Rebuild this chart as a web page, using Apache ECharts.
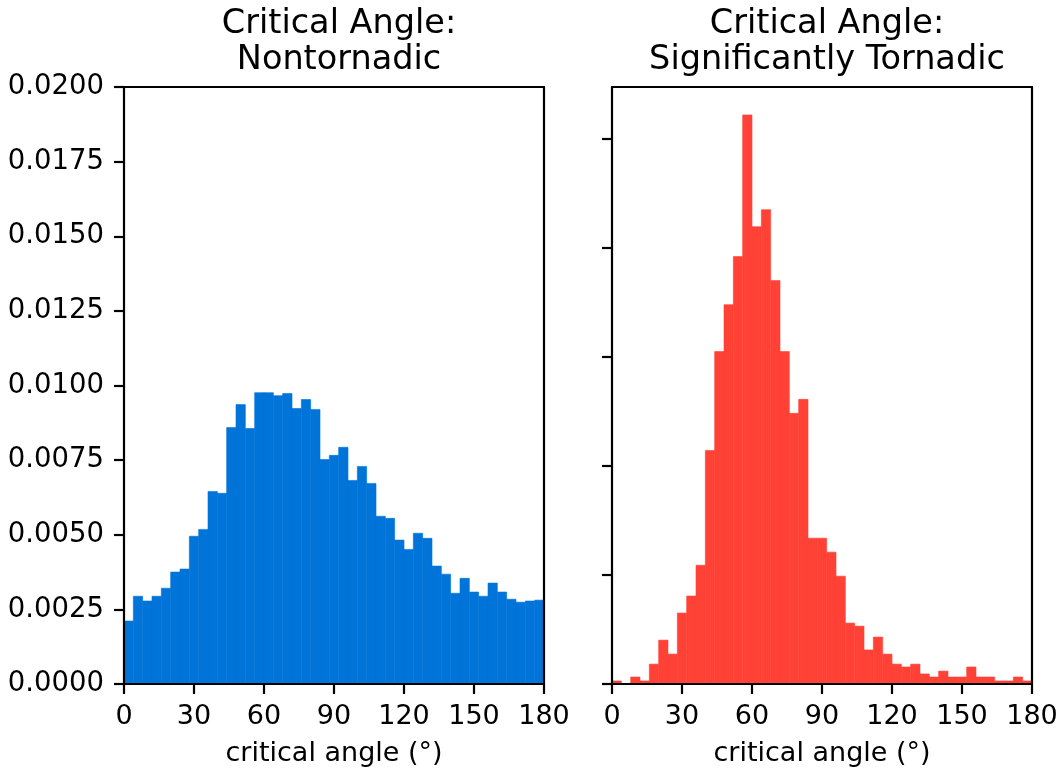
<!DOCTYPE html>
<html>
<head>
<meta charset="utf-8">
<script src="https://cdn.jsdelivr.net/npm/echarts@6/dist/echarts.min.js"></script>
<style>
  html, body { margin: 0; padding: 0; background: #fff; }
  #chart { width: 1061px; height: 772px; }
</style>
</head>
<body>
<div id="chart"></div>
<script>
// bin edges in degrees, 4 degree bins
const binEdges = [0, 4, 8, 12, 16, 20, 24, 28, 32, 36, 40, 44, 48, 52, 56, 60, 64, 68, 72, 76, 80, 84, 88,
  92, 96, 100, 104, 108, 112, 116, 120, 124, 128, 132, 136, 140, 144, 148, 152, 156, 160, 164, 168, 172, 176, 180];

// density per bin
const nontornadic = [0.00211, 0.00294, 0.00278, 0.00294, 0.00321, 0.00375, 0.00385, 0.00495, 0.00518, 0.00645,
  0.00639, 0.00859, 0.00936, 0.00856, 0.00976, 0.00976, 0.00966, 0.00973, 0.00923, 0.00953,
  0.00920, 0.00752, 0.00766, 0.00793, 0.00682, 0.00729, 0.00672, 0.00562, 0.00555, 0.00482,
  0.00451, 0.00505, 0.00488, 0.00395, 0.00368, 0.00304, 0.00354, 0.00308, 0.00294, 0.00338,
  0.00308, 0.00284, 0.00274, 0.00278, 0.00281];

const sigTornadic = [0.00014, 0.0, 0.00032, 0.00014, 0.00091, 0.00201, 0.00137, 0.00325, 0.00403, 0.00544,
  0.01070, 0.01523, 0.01738, 0.01958, 0.02607, 0.02095, 0.02173, 0.01848, 0.01523, 0.01240,
  0.01304, 0.00668, 0.00668, 0.00604, 0.00494, 0.00279, 0.00265, 0.00156, 0.00215, 0.00137,
  0.00091, 0.00078, 0.00091, 0.00046, 0.00032, 0.00059, 0.00032, 0.00032, 0.00078, 0.00032,
  0.00032, 0.00014, 0.00014, 0.00032, 0.00014];

const xTicks = [0, 30, 60, 90, 120, 150, 180];
const leftYTicks = [0, 0.0025, 0.005, 0.0075, 0.01, 0.0125, 0.015, 0.0175, 0.02];
const rightYTicks = [0, 0.005, 0.01, 0.015, 0.02, 0.025];

const titles = ["Critical Angle:\nNontornadic", "Critical Angle:\nSignificantly Tornadic"];
const xName = "critical angle (°)";

const colors = { left: "#0074D9", right: "#FF4136", axis: "#000" };
const font = "DejaVu Sans";

const toBins = (vals) => vals.map((v, i) => [binEdges[i], binEdges[i + 1], v]);

const chart = echarts.init(document.getElementById("chart"), null, { renderer: "canvas" });

const grids = [
  { left: 124, top: 87, width: 420, height: 598 },
  { left: 612, top: 87, width: 420, height: 598 }
];

const lineStyle = { color: colors.axis, width: 2.2 };

const bottomX = (gi) => ({
  type: "value",
  gridIndex: gi,
  min: 0,
  max: 180,
  interval: 30,
  z: 10,
  axisLine: { show: true, onZero: false, lineStyle },
  axisTick: { show: true, length: 10, lineStyle },
  axisLabel: {
    show: true,
    margin: 19,
    color: "#000",
    fontFamily: font,
    fontSize: 27,
    customValues: xTicks
  },
  splitLine: { show: false },
  name: xName,
  nameLocation: "middle",
  nameGap: 56,
  nameTextStyle: { color: "#000", fontFamily: font, fontSize: 27 }
});

const topX = (gi) => ({
  type: "value",
  gridIndex: gi,
  position: "top",
  min: 0,
  max: 180,
  z: 10,
  axisLine: { show: true, onZero: false, lineStyle },
  axisTick: { show: false },
  axisLabel: { show: false },
  splitLine: { show: false }
});

const leftY = (gi, max, interval, ticks, showLabels) => ({
  type: "value",
  gridIndex: gi,
  min: 0,
  max,
  interval,
  z: 10,
  axisLine: { show: true, onZero: false, lineStyle },
  axisTick: { show: true, length: 10, lineStyle, customValues: ticks },
  axisLabel: {
    show: showLabels,
    margin: 20,
    color: "#000",
    fontFamily: font,
    fontSize: 27.5,
    customValues: ticks,
    formatter: (v) => v.toFixed(4)
  },
  splitLine: { show: false }
});

const rightY = (gi, max) => ({
  type: "value",
  gridIndex: gi,
  position: "right",
  min: 0,
  max,
  z: 10,
  axisLine: { show: true, onZero: false, lineStyle },
  axisTick: { show: false },
  axisLabel: { show: false },
  splitLine: { show: false }
});

const histSeries = (idx, data, color) => ({
  type: "custom",
  xAxisIndex: idx * 2,
  yAxisIndex: idx * 2,
  data,
  encode: { x: [0, 1], y: 2 },
  renderItem: (params, api) => {
    const p0 = api.coord([api.value(0), 0]);
    const p1 = api.coord([api.value(1), api.value(2)]);
    return {
      type: "rect",
      shape: { x: p0[0], y: p1[1], width: p1[0] - p0[0], height: p0[1] - p1[1] },
      style: { fill: color, stroke: color, lineWidth: 0.6 }
    };
  }
});

const option = {
  animation: false,
  backgroundColor: "#fff",
  title: titles.map((t, i) => ({
    text: t,
    left: grids[i].left + grids[i].width / 2,
    textAlign: "center",
    top: 1,
    textStyle: {
      color: "#000",
      fontFamily: font,
      fontSize: 33.5,
      fontWeight: "normal",
      lineHeight: 36
    }
  })),
  grid: grids,
  xAxis: [bottomX(0), topX(0), bottomX(1), topX(1)],
  yAxis: [
    leftY(0, 0.02, 0.0025, leftYTicks, true),
    rightY(0, 0.02),
    leftY(1, 0.02735, 0.005, rightYTicks, false),
    rightY(1, 0.02735)
  ],
  series: [
    histSeries(0, toBins(nontornadic), colors.left),
    histSeries(1, toBins(sigTornadic), colors.right)
  ]
};

chart.setOption(option);
</script>
</body>
</html>
